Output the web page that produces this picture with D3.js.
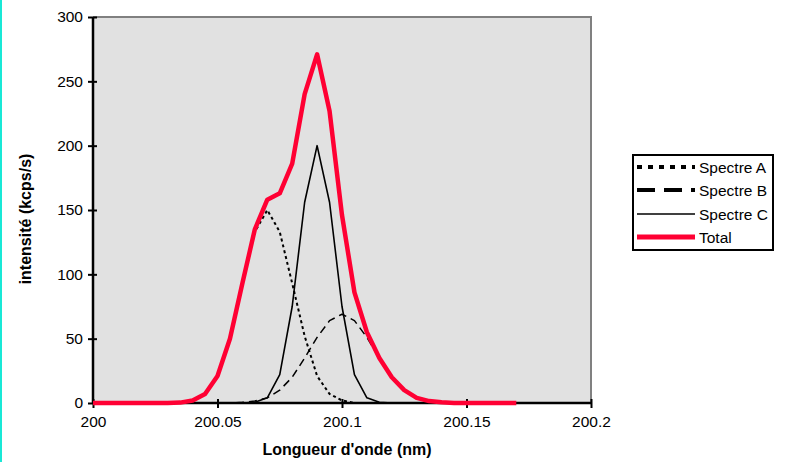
<!DOCTYPE html>
<html>
<head>
<meta charset="utf-8">
<script src="https://cdn.jsdelivr.net/npm/d3@7"></script>
<style>
  body { margin: 0; background: #fff; }
  svg { display: block; font-family: "Liberation Sans", Arial, sans-serif; }
</style>
</head>
<body>
<div id="chart"></div>
<script>
// wavelengths (nm), one point every 0.005 nm
var wavelengths = [200, 200.005, 200.01, 200.015, 200.02, 200.025, 200.03, 200.035, 200.04, 200.045,
  200.05, 200.055, 200.06, 200.065, 200.07, 200.075, 200.08, 200.085, 200.09, 200.095,
  200.1, 200.105, 200.11, 200.115, 200.12, 200.125, 200.13, 200.135, 200.14, 200.145,
  200.15, 200.155, 200.16, 200.165, 200.17];

var spectreA = [0, 0, 0, 0, 0, 0, 0, 0, 2, 7, 21, 50, 92, 133, 150, 133, 93, 52, 21, 7,
  2, 0, 0, 0, 0, 0, 0, 0, 0, 0, 0, 0, 0, 0, 0];
var spectreB = [0, 0, 0, 0, 0, 0, 0, 0, 0, 0, 0, 0, 0.5, 1.5, 4, 10, 20, 35, 51, 64,
  69, 64, 51, 35, 20, 10, 4, 1.5, 0.5, 0, 0, 0, 0, 0, 0];
var spectreC = [0, 0, 0, 0, 0, 0, 0, 0, 0, 0, 0, 0, 0, 0.5, 4, 22, 75, 156, 200, 156,
  75, 22, 4, 0.5, 0, 0, 0, 0, 0, 0, 0, 0, 0, 0, 0];
var total = [0, 0, 0, 0, 0, 0, 0, 0.3, 2, 7, 21, 50, 93, 135, 158, 163, 186, 240, 271, 227,
  146, 86, 55, 35, 20, 10, 4, 1.5, 0.5, 0, 0, 0, 0, 0, 0];

var seriesNames = ["Spectre A", "Spectre B", "Spectre C", "Total"];
var xTicks = [200, 200.05, 200.1, 200.15, 200.2];
var yTicks = [0, 50, 100, 150, 200, 250, 300];

var width = 786, height = 462;
var fontSize = 15.5;
var svg = d3.select("#chart").append("svg")
  .attr("width", width)
  .attr("height", height);

// left turquoise edge
svg.append("rect").attr("x", 0).attr("y", 0).attr("width", 2).attr("height", height)
  .attr("fill", "#19e8d6");

var x = d3.scaleLinear().domain([200, 200.2]).range([93, 591]);
var y = d3.scaleLinear().domain([0, 300]).range([403, 17]);

// plot area
svg.append("rect")
  .attr("x", x(200)).attr("y", y(300))
  .attr("width", x(200.2) - x(200)).attr("height", y(0) - y(300))
  .attr("fill", "#e1e1e1");
svg.append("path")
  .attr("d", "M" + x(200) + "," + y(300) + "H" + x(200.2) + "V" + y(0))
  .attr("fill", "none").attr("stroke", "#808080").attr("stroke-width", 2);

// series
var styles = [
  { data: spectreA, color: "#000", w: 2, dash: "3,3" },
  { data: spectreB, color: "#000", w: 1.5, dash: "8,5" },
  { data: spectreC, color: "#000", w: 1.6, dash: null },
  { data: total, color: "#ff0033", w: 4.5, dash: null }
];

var line = d3.line()
  .x(function(d, i) { return x(wavelengths[i]); })
  .y(function(d) { return y(d); });

var axisG = svg.append("g");
var plotG = svg.append("g");

styles.forEach(function(s) {
  plotG.append("path")
    .datum(s.data)
    .attr("d", line)
    .attr("fill", "none")
    .attr("stroke", s.color)
    .attr("stroke-width", s.w)
    .attr("stroke-dasharray", s.dash)
    .attr("stroke-linejoin", "round");
});

// axes
var yAxis = axisG.append("g")
  .attr("transform", "translate(" + x(200) + ",0)")
  .call(d3.axisLeft(y).tickValues(yTicks).tickSize(5).tickPadding(5));
yAxis.selectAll(".tick line").attr("x1", 4);

var xAxis = axisG.append("g")
  .attr("transform", "translate(0," + y(0) + ")")
  .call(d3.axisBottom(x).tickValues(xTicks).tickSize(5).tickPadding(8)
    .tickFormat(function(d) { return d3.format("")(+d.toFixed(2)); }));
xAxis.selectAll(".tick line").attr("y1", -4);

[yAxis, xAxis].forEach(function(a) {
  a.select(".domain").attr("stroke", "#000").attr("stroke-width", 2.5);
  a.selectAll(".tick line").attr("stroke", "#000").attr("stroke-width", 2);
  a.selectAll("text").attr("font-size", fontSize).attr("fill", "#000")
    .attr("font-family", "'Liberation Sans', Arial, sans-serif");
});
xAxis.select(".domain").attr("d", "M" + x(200) + ",0H" + x(200.2));
yAxis.select(".domain").attr("d", "M0," + y(0) + "V" + y(300));

// axis titles
svg.append("text")
  .attr("x", 347).attr("y", 455)
  .attr("text-anchor", "middle")
  .attr("font-size", 16).attr("font-weight", "bold")
  .text("Longueur d'onde (nm)");

svg.append("text")
  .attr("transform", "translate(31,219) rotate(-90)")
  .attr("text-anchor", "middle")
  .attr("font-size", 16).attr("font-weight", "bold")
  .text("intensité (kcps/s)");

// legend
var legend = svg.append("g");
legend.append("rect")
  .attr("x", 633).attr("y", 155).attr("width", 140).attr("height", 95)
  .attr("fill", "#fff").attr("stroke", "#000").attr("stroke-width", 2);

var legendStyles = [
  { color: "#000", w: 4, dash: "5,6" },
  { color: "#000", w: 4, dash: "18,9" },
  { color: "#000", w: 1.6, dash: null },
  { color: "#ff0033", w: 5, dash: null }
];
var legendY = [167, 190, 214, 237];

seriesNames.forEach(function(name, i) {
  var s = legendStyles[i];
  legend.append("line")
    .attr("x1", 637).attr("x2", 695)
    .attr("y1", legendY[i]).attr("y2", legendY[i])
    .attr("stroke", s.color).attr("stroke-width", s.w)
    .attr("stroke-dasharray", s.dash);
  legend.append("text")
    .attr("x", 699).attr("y", legendY[i] + 5.5)
    .attr("font-size", fontSize)
    .text(name);
});
</script>
</body>
</html>
